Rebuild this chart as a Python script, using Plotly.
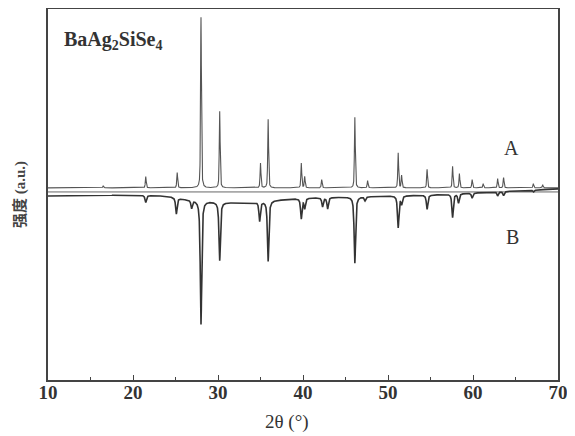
import numpy as np
import plotly.graph_objects as go

# ---- data ----
# Pattern A (calculated), peak positions (2theta, deg) and relative intensities (%)
A_pos = [16.5, 21.5, 25.2, 28.0, 30.2, 35.0, 35.9, 39.8, 40.2, 42.2, 46.1, 47.6,
         51.2, 51.6, 54.6, 57.6, 58.4, 59.9, 61.2, 62.9, 63.6, 67.1, 68.2]
A_int = [1.2, 6.6, 9.0, 100.0, 44.9, 14.4, 40.1, 14.4, 6.6, 4.8, 41.3, 4.2,
         20.4, 7.2, 10.8, 12.6, 8.4, 4.8, 2.4, 5.4, 6.0, 2.4, 1.8]

# Pattern B (experimental, drawn inverted), peak positions and depths (a.u.)
B_pos = [21.5, 25.1, 26.9, 28.0, 30.2, 34.9, 35.9, 39.8, 40.2, 42.3, 42.9, 46.1,
         47.3, 51.2, 51.6, 54.6, 57.6, 58.3, 59.9, 62.9, 63.6, 67.1]
B_int = [7, 16, 8, 121, 57, 19, 59, 20, 10, 9, 11, 65,
         4, 31, 8, 14, 23, 9, 5, 4, 4, 2]

# Pattern B background level (a.u.) read at a few angles
B_bg_x = [10, 20, 24, 26, 30, 33, 37, 40, 45, 50, 55, 60, 65, 70]
B_bg_y = [180, 181, 180, 177, 174, 173, 176, 178, 179, 180, 181, 183, 185, 187]

A_base = 188.0   # baseline of pattern A (a.u.)
A_scale = 1.67   # a.u. per % for pattern A
REF_LEVEL = 184.0  # flat separator line

x_ticks = [10, 20, 30, 40, 50, 60, 70]


def pseudo_voigt(x, x0, fwhm, eta):
    g = np.exp(-4 * np.log(2) * ((x - x0) / fwhm) ** 2)
    l = 1.0 / (1.0 + ((x - x0) / (fwhm / 2)) ** 2)
    return eta * l + (1 - eta) * g


x = np.arange(10.0, 70.0001, 0.01)

yA = np.full_like(x, A_base)
for p, h in zip(A_pos, A_int):
    yA += A_scale * h * pseudo_voigt(x, p, 0.12, 0.5)

yB = np.interp(x, B_bg_x, B_bg_y)
for p, h in zip(B_pos, B_int):
    yB -= h * pseudo_voigt(x, p, 0.2, 0.75)

fig = go.Figure()
fig.add_trace(go.Scatter(x=[10, 70], y=[REF_LEVEL, REF_LEVEL], mode="lines",
                         line=dict(color="#666666", width=1), hoverinfo="skip"))
fig.add_trace(go.Scatter(x=x, y=yA, mode="lines",
                         line=dict(color="#555555", width=1.1), hoverinfo="skip"))
fig.add_trace(go.Scatter(x=x, y=yB, mode="lines",
                         line=dict(color="#333333", width=1.6), hoverinfo="skip"))

serif = "Liberation Serif, Times New Roman, serif"
ink = "#333333"

fig.add_annotation(x=11.65, y=332, xref="x", yref="y", xanchor="left", yanchor="middle",
                   text="<b>BaAg<sub>2</sub>SiSe<sub>4</sub></b>", showarrow=False,
                   font=dict(family=serif, size=20, color=ink))
fig.add_annotation(x=64.5, y=372 - 145, xref="x", yref="y", text="A", showarrow=False,
                   font=dict(family=serif, size=20, color=ink))
fig.add_annotation(x=64.6, y=372 - 232, xref="x", yref="y", text="B", showarrow=False,
                   font=dict(family=serif, size=20, color=ink))

# axis titles as annotations (pixel-placed via paper coords)
fig.add_annotation(x=(287 - 48) / 510, y=-(413 - 372) / 363, xref="paper", yref="paper",
                   xanchor="center", yanchor="middle", text="2θ (°)", showarrow=False,
                   font=dict(family=serif, size=19, color=ink))
fig.add_annotation(x=-(48 - 18) / 510, y=(372 - 191) / 363, xref="paper", yref="paper",
                   xanchor="center", yanchor="middle", textangle=-90, showarrow=False,
                   text="<span style='font-family:Noto Sans CJK SC;font-weight:bold'>强度</span> <b>(a.u.)</b>",
                   font=dict(family=serif, size=15, color="#444444"))

# the page body has an 8px default margin, so the figure is 8px smaller and margins shifted
fig.update_layout(
    width=567, height=428,
    margin=dict(l=40, r=17, t=1, b=56, autoexpand=False),
    paper_bgcolor="white", plot_bgcolor="white",
    showlegend=False,
    xaxis=dict(range=[10, 70], tickvals=x_ticks, ticks="inside", ticklen=5, tickwidth=1.2,
               tickcolor="#444444", automargin=False, ticklabelstandoff=-6,
               minor=dict(dtick=5, ticks="inside", ticklen=3, tickcolor="#444444"),
               showline=True, linecolor="#444444", linewidth=1.5, mirror=True,
               showgrid=False, zeroline=False,
               tickfont=dict(family=serif, size=19, color=ink, weight="bold")),
    yaxis=dict(range=[0, 363], showticklabels=False, ticks="", automargin=False,
               showline=True, linecolor="#444444", linewidth=1.5, mirror=True,
               showgrid=False, zeroline=False),
)

fig.write_html("out.html")
